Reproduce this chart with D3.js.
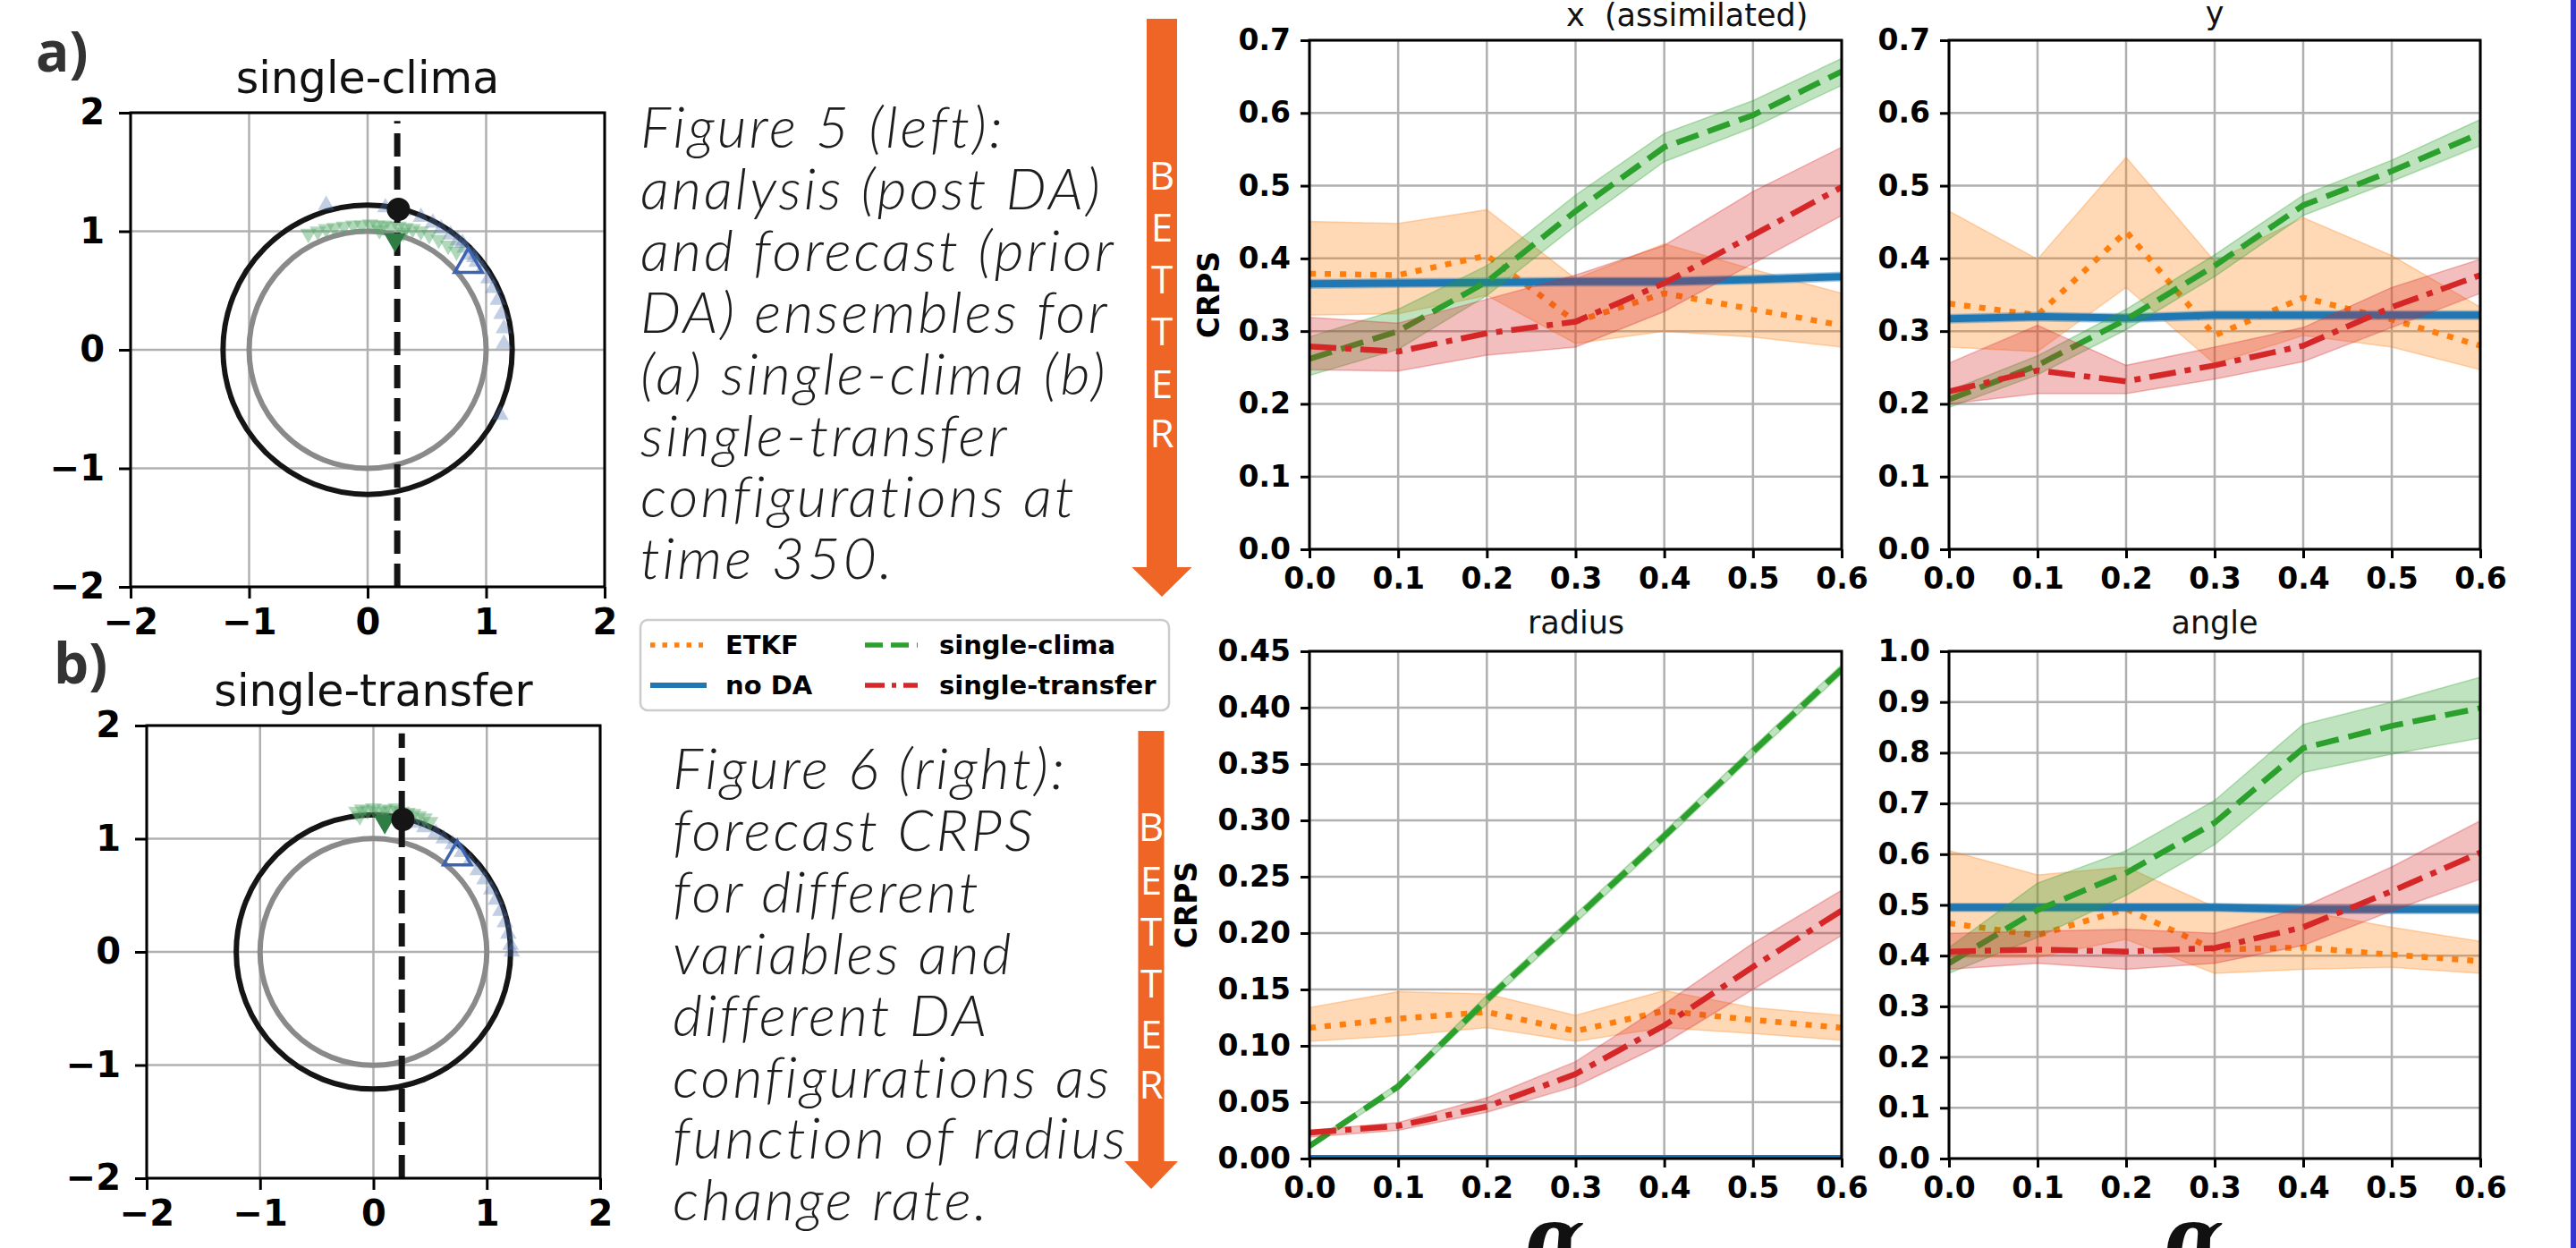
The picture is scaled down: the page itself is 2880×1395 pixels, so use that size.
<!DOCTYPE html>
<html>
<head>
<meta charset="utf-8">
<script src="https://cdn.jsdelivr.net/npm/d3@7"></script>
<style>
  body { margin: 0; background: #fff; }
  svg { display: block; }
</style>
</head>
<body>
<div id="chart"></div>
<script>
// ---- data ----
const alphaR = [0, 0.1, 0.2, 0.3, 0.4, 0.5, 0.6];
const seriesNames = ["ETKF", "no DA", "single-clima", "single-transfer"];

// order of inner arrays follows seriesNames
const xMean = [
  [0.379, 0.377, 0.404, 0.313, 0.352, 0.330, 0.308],
  [0.365, 0.366, 0.367, 0.368, 0.368, 0.371, 0.375],
  [0.262, 0.300, 0.368, 0.465, 0.553, 0.597, 0.657],
  [0.279, 0.272, 0.297, 0.313, 0.366, 0.432, 0.498]
];
const xLow = [
  [0.322, 0.324, 0.349, 0.283, 0.300, 0.292, 0.278],
  [0.359, 0.360, 0.361, 0.362, 0.362, 0.365, 0.369],
  [0.239, 0.275, 0.349, 0.445, 0.533, 0.580, 0.638],
  [0.247, 0.245, 0.267, 0.278, 0.327, 0.393, 0.459]
];
const xHigh = [
  [0.451, 0.448, 0.467, 0.372, 0.420, 0.385, 0.352],
  [0.371, 0.372, 0.373, 0.374, 0.374, 0.377, 0.381],
  [0.292, 0.330, 0.390, 0.487, 0.572, 0.617, 0.675],
  [0.319, 0.311, 0.344, 0.377, 0.418, 0.492, 0.553]
];

const yMean = [
  [0.338, 0.322, 0.437, 0.294, 0.346, 0.316, 0.280],
  [0.317, 0.320, 0.318, 0.322, 0.322, 0.322, 0.322],
  [0.206, 0.253, 0.316, 0.390, 0.473, 0.520, 0.572],
  [0.217, 0.246, 0.231, 0.253, 0.280, 0.333, 0.377]
];
const yLow = [
  [0.278, 0.272, 0.360, 0.255, 0.294, 0.278, 0.247],
  [0.311, 0.314, 0.312, 0.316, 0.316, 0.316, 0.316],
  [0.195, 0.240, 0.302, 0.375, 0.459, 0.506, 0.555],
  [0.200, 0.214, 0.214, 0.234, 0.258, 0.305, 0.352]
];
const yHigh = [
  [0.465, 0.399, 0.539, 0.396, 0.456, 0.404, 0.333],
  [0.323, 0.326, 0.324, 0.328, 0.328, 0.328, 0.328],
  [0.218, 0.266, 0.330, 0.405, 0.487, 0.535, 0.591],
  [0.256, 0.308, 0.253, 0.278, 0.305, 0.360, 0.399]
];

const radiusMean = [
  [0.116, 0.124, 0.130, 0.113, 0.131, 0.123, 0.116],
  [0.000, 0.000, 0.000, 0.000, 0.000, 0.000, 0.000],
  [0.011, 0.064, 0.141, 0.213, 0.286, 0.361, 0.434],
  [0.023, 0.029, 0.046, 0.075, 0.118, 0.170, 0.220]
];
const radiusLow = [
  [0.104, 0.109, 0.116, 0.104, 0.116, 0.111, 0.105],
  [0.000, 0.000, 0.000, 0.000, 0.000, 0.000, 0.000],
  [0.009, 0.061, 0.137, 0.209, 0.282, 0.357, 0.430],
  [0.019, 0.025, 0.041, 0.064, 0.102, 0.150, 0.198]
];
const radiusHigh = [
  [0.134, 0.148, 0.146, 0.127, 0.149, 0.134, 0.127],
  [0.001, 0.001, 0.001, 0.001, 0.001, 0.001, 0.001],
  [0.013, 0.067, 0.145, 0.217, 0.290, 0.365, 0.438],
  [0.025, 0.032, 0.054, 0.086, 0.137, 0.191, 0.238]
];

const angleMean = [
  [0.464, 0.440, 0.492, 0.412, 0.416, 0.402, 0.389],
  [0.495, 0.495, 0.495, 0.495, 0.491, 0.491, 0.491],
  [0.385, 0.490, 0.563, 0.662, 0.809, 0.853, 0.888],
  [0.408, 0.412, 0.408, 0.415, 0.456, 0.527, 0.603]
];
const angleLow = [
  [0.397, 0.397, 0.432, 0.365, 0.373, 0.377, 0.365],
  [0.487, 0.487, 0.487, 0.487, 0.483, 0.483, 0.483],
  [0.365, 0.436, 0.519, 0.619, 0.761, 0.797, 0.829],
  [0.373, 0.385, 0.373, 0.385, 0.420, 0.488, 0.551]
];
const angleHigh = [
  [0.607, 0.559, 0.575, 0.496, 0.488, 0.456, 0.428],
  [0.503, 0.503, 0.503, 0.503, 0.499, 0.499, 0.499],
  [0.416, 0.543, 0.607, 0.706, 0.856, 0.900, 0.949],
  [0.444, 0.448, 0.452, 0.444, 0.496, 0.575, 0.666]
];

const ticksXY = [0, 0.1, 0.2, 0.3, 0.4, 0.5, 0.6, 0.7];
const ticksRadius = [0, 0.05, 0.1, 0.15, 0.2, 0.25, 0.3, 0.35, 0.4, 0.45];
const ticksAngle = [0, 0.1, 0.2, 0.3, 0.4, 0.5, 0.6, 0.7, 0.8, 0.9, 1.0];

// ensembles at time 350 (x, y)
const orbitTicks = [-2, -1, 0, 1, 2];
const anaA = [[-0.5, 0.98], [-0.42, 1.0], [-0.35, 1.02], [-0.28, 1.03], [-0.2, 1.04], [-0.12, 1.05],
  [-0.05, 1.05], [0.02, 1.06], [0.08, 1.05], [0.14, 1.05], [0.2, 1.04], [0.26, 1.04], [0.32, 1.03],
  [0.38, 1.02], [0.45, 1.0], [0.52, 0.97], [0.6, 0.93], [0.68, 0.88], [0.75, 0.83], [0.1, 1.01], [0.3, 0.99]];
const fcA = [[-0.35, 1.22], [0.15, 1.2], [0.3, 1.17], [0.45, 1.12], [0.55, 1.07], [0.62, 1.02], [0.7, 0.97],
  [0.76, 0.92], [0.82, 0.86], [0.88, 0.8], [0.92, 0.74], [0.97, 0.68], [1.02, 0.6], [1.06, 0.52],
  [1.1, 0.42], [1.13, 0.3], [1.15, 0.18], [1.15, 0.05], [1.12, -0.55], [0.9, 0.78], [0.8, 0.9]];
const anaB = [[-0.15, 1.24], [-0.1, 1.26], [-0.05, 1.25], [0, 1.27], [0.05, 1.24], [0.1, 1.26], [0.15, 1.25],
  [0.2, 1.27], [0.25, 1.24], [0.3, 1.23], [0.35, 1.22], [0.4, 1.2], [0.45, 1.18], [0.5, 1.15],
  [-0.12, 1.2], [0.08, 1.2]];
const fcB = [[0.35, 1.14], [0.45, 1.1], [0.55, 1.05], [0.62, 1.0], [0.7, 0.95], [0.78, 0.88], [0.85, 0.8],
  [0.92, 0.72], [0.98, 0.64], [1.04, 0.55], [1.08, 0.46], [1.12, 0.36], [1.16, 0.26], [1.19, 0.16],
  [1.21, 0.06], [1.22, 0.0]];
const anaMeanA = [0.23, 0.93], fcMeanA = [0.85, 0.72];
const anaMeanB = [0.1, 1.15], fcMeanB = [0.74, 0.84];
const truthA = [0.26, 1.185], truthB = [0.26, 1.17];
const obsX = 0.25;

const caption5 = ["Figure 5 (left):", "analysis (post DA)", "and forecast (prior", "DA) ensembles for",
  "(a) single-clima (b)", "single-transfer", "configurations at", "time 350."];
const caption6 = ["Figure 6 (right):", "forecast CRPS", "for different", "variables and",
  "different DA", "configurations as", "function of radius", "change rate."];

// ---- drawing ----
const W = 2880, H = 1395;
const FONT = "'DejaVu Sans', sans-serif";
const colors = ["#ff7f0e", "#1f77b4", "#2ca02c", "#d62728"];
const dashes = ["7 10", null, "26 11", "30 10 7 10"];
const widths = [6.5, 8, 6.5, 6.5];

const svg = d3.select("#chart").append("svg")
  .attr("width", W).attr("height", H)
  .style("background", "#fff");

function styleAxis(a, size) {
  a.select(".domain").remove();
  a.selectAll(".tick line").attr("stroke", "#000").attr("stroke-width", 3);
  a.selectAll(".tick text")
    .attr("font-family", FONT).attr("font-size", size)
    .attr("font-weight", "bold").attr("fill", "#000");
}

function drawOrbit(p) {
  const x = d3.scaleLinear().domain([-2, 2]).range([p.left, p.right]);
  const y = d3.scaleLinear().domain([-2, 2]).range([p.bottom, p.top]);
  const g = svg.append("g");

  g.append("g").selectAll("line").data(orbitTicks).join("line")
    .attr("x1", d => x(d)).attr("x2", d => x(d))
    .attr("y1", p.top).attr("y2", p.bottom)
    .attr("stroke", "#b0b0b0").attr("stroke-width", 2.5);
  g.append("g").selectAll("line").data(orbitTicks).join("line")
    .attr("y1", d => y(d)).attr("y2", d => y(d))
    .attr("x1", p.left).attr("x2", p.right)
    .attr("stroke", "#b0b0b0").attr("stroke-width", 2.5);

  const unit = x(1) - x(0);
  g.append("circle").attr("cx", x(0)).attr("cy", y(0)).attr("r", unit)
    .attr("fill", "none").attr("stroke", "#8a8a8a").attr("stroke-width", 6);
  g.append("circle").attr("cx", x(0)).attr("cy", y(0)).attr("r", unit * p.radius)
    .attr("fill", "none").attr("stroke", "#151515").attr("stroke-width", 6);

  const small = d3.symbol().type(d3.symbolTriangle).size(150)();
  g.append("g").selectAll("path").data(p.fc).join("path")
    .attr("d", small)
    .attr("transform", d => `translate(${x(d[0])},${y(d[1])})`)
    .attr("fill", "#4c72b0").attr("fill-opacity", 0.35);
  g.append("g").selectAll("path").data(p.ana).join("path")
    .attr("d", small)
    .attr("transform", d => `translate(${x(d[0])},${y(d[1])}) rotate(180)`)
    .attr("fill", "#55a868").attr("fill-opacity", 0.45);

  g.append("line")
    .attr("x1", x(obsX)).attr("x2", x(obsX))
    .attr("y1", y(-2)).attr("y2", y(1.93))
    .attr("stroke", "#151515").attr("stroke-width", 7)
    .attr("stroke-dasharray", "26 11");

  g.append("path").attr("d", d3.symbol().type(d3.symbolTriangle).size(260)())
    .attr("transform", `translate(${x(p.anaMean[0])},${y(p.anaMean[1])}) rotate(180)`)
    .attr("fill", "#2f7d45");
  g.append("path").attr("d", d3.symbol().type(d3.symbolTriangle).size(420)())
    .attr("transform", `translate(${x(p.fcMean[0])},${y(p.fcMean[1])})`)
    .attr("fill", "none").attr("stroke", "#3d64b0").attr("stroke-width", 3.5);

  g.append("circle").attr("cx", x(p.truth[0])).attr("cy", y(p.truth[1])).attr("r", 13)
    .attr("fill", "#151515");

  g.append("rect").attr("x", p.left).attr("y", p.top)
    .attr("width", p.right - p.left).attr("height", p.bottom - p.top)
    .attr("fill", "none").attr("stroke", "#000").attr("stroke-width", 3);

  g.append("g").attr("transform", `translate(0,${p.bottom})`)
    .call(d3.axisBottom(x).tickValues(orbitTicks).tickSize(13).tickPadding(12).tickFormat(d3.format("d")))
    .call(a => styleAxis(a, 40));
  g.append("g").attr("transform", `translate(${p.left},0)`)
    .call(d3.axisLeft(y).tickValues(orbitTicks).tickSize(13).tickPadding(16).tickFormat(d3.format("d")))
    .call(a => styleAxis(a, 40));

  g.append("text").attr("x", (p.left + p.right) / 2).attr("y", p.titleY)
    .attr("text-anchor", "middle").attr("font-family", FONT).attr("font-size", 49)
    .attr("fill", "#111").text(p.title);
  g.append("text").attr("x", p.tagX).attr("y", p.tagY)
    .attr("font-family", "'Open Sans', sans-serif").attr("font-weight", "bold")
    .attr("font-size", 62).attr("fill", "#333").text(p.tag);
}

drawOrbit({ left: 146, right: 676, top: 126, bottom: 656, radius: 1.22,
  ana: anaA, fc: fcA, anaMean: anaMeanA, fcMean: fcMeanA, truth: truthA,
  title: "single-clima", titleY: 104, tag: "a)", tagX: 40, tagY: 80 });
drawOrbit({ left: 164, right: 671, top: 811, bottom: 1317, radius: 1.21,
  ana: anaB, fc: fcB, anaMean: anaMeanB, fcMean: fcMeanB, truth: truthB,
  title: "single-transfer", titleY: 789, tag: "b)", tagX: 60, tagY: 764 });

let clipId = 0;
function drawCrps(p) {
  const x = d3.scaleLinear().domain([0, 0.6]).range([p.left, p.right]);
  const y = d3.scaleLinear().domain([0, p.ticks[p.ticks.length - 1]]).range([p.bottom, p.top]);
  const g = svg.append("g");
  const id = "clip" + (clipId++);
  svg.append("clipPath").attr("id", id).append("rect")
    .attr("x", p.left).attr("y", p.top)
    .attr("width", p.right - p.left).attr("height", p.bottom - p.top);

  g.append("g").selectAll("line").data(alphaR).join("line")
    .attr("x1", d => x(d)).attr("x2", d => x(d))
    .attr("y1", p.top).attr("y2", p.bottom)
    .attr("stroke", "#b0b0b0").attr("stroke-width", 2.5);
  g.append("g").selectAll("line").data(p.ticks).join("line")
    .attr("y1", d => y(d)).attr("y2", d => y(d))
    .attr("x1", p.left).attr("x2", p.right)
    .attr("stroke", "#b0b0b0").attr("stroke-width", 2.5);

  const plot = g.append("g").attr("clip-path", `url(#${id})`);
  const area = d3.area().x((d, i) => x(alphaR[i])).y0(d => y(d[0])).y1(d => y(d[1]));
  const line = d3.line().x((d, i) => x(alphaR[i])).y(d => y(d));

  seriesNames.forEach((name, s) => {
    const band = p.low[s].map((v, i) => [v, p.high[s][i]]);
    plot.append("path").datum(band).attr("d", area)
      .attr("fill", colors[s]).attr("fill-opacity", 0.3)
      .attr("stroke", colors[s]).attr("stroke-opacity", 0.3).attr("stroke-width", 1.5);
    plot.append("path").datum(p.mean[s]).attr("d", line)
      .attr("fill", "none").attr("stroke", colors[s]).attr("stroke-width", widths[s])
      .attr("stroke-dasharray", dashes[s]);
  });

  g.append("rect").attr("x", p.left).attr("y", p.top)
    .attr("width", p.right - p.left).attr("height", p.bottom - p.top)
    .attr("fill", "none").attr("stroke", "#000").attr("stroke-width", 3);

  g.append("g").attr("transform", `translate(0,${p.bottom})`)
    .call(d3.axisBottom(x).tickValues(alphaR).tickSize(10).tickPadding(11).tickFormat(d3.format(".1f")))
    .call(a => styleAxis(a, 33));
  g.append("g").attr("transform", `translate(${p.left},0)`)
    .call(d3.axisLeft(y).tickValues(p.ticks).tickSize(10).tickPadding(11).tickFormat(d3.format(p.fmt)))
    .call(a => styleAxis(a, 33));

  g.append("text").attr("x", p.titleX).attr("y", p.titleY)
    .attr("text-anchor", p.titleAnchor).attr("font-family", FONT).attr("font-size", 35)
    .attr("fill", "#111").text(p.title);

  if (p.crpsX) {
    g.append("text")
      .attr("transform", `translate(${p.crpsX},${(p.top + p.bottom) / 2}) rotate(-90)`)
      .attr("text-anchor", "middle").attr("dy", "0.35em")
      .attr("font-family", FONT).attr("font-size", 33).attr("font-weight", "bold")
      .attr("fill", "#000").text("CRPS");
  }
  if (p.alphaLabel) {
    const t = g.append("text").attr("x", (p.left + p.right) / 2 - 8).attr("y", 1412)
      .attr("text-anchor", "middle").attr("font-family", "'DejaVu Serif', serif")
      .attr("font-style", "italic").attr("font-weight", "bold").attr("font-size", 86)
      .attr("fill", "#111");
    t.append("tspan").text("α");
    t.append("tspan").attr("font-size", 56).attr("dy", 14).text("r");
  }
}

drawCrps({ left: 1464, right: 2059, top: 45, bottom: 614, ticks: ticksXY, fmt: ".1f",
  mean: xMean, low: xLow, high: xHigh, title: "x\u00a0\u00a0(assimilated)", titleX: 1751, titleY: 29,
  titleAnchor: "start", crpsX: 1351 });
drawCrps({ left: 2179, right: 2773, top: 45, bottom: 614, ticks: ticksXY, fmt: ".1f",
  mean: yMean, low: yLow, high: yHigh, title: "y", titleX: 2476, titleY: 27,
  titleAnchor: "middle" });
drawCrps({ left: 1464, right: 2059, top: 728, bottom: 1295, ticks: ticksRadius, fmt: ".2f",
  mean: radiusMean, low: radiusLow, high: radiusHigh, title: "radius", titleX: 1762, titleY: 708,
  titleAnchor: "middle", crpsX: 1326, alphaLabel: true });
drawCrps({ left: 2179, right: 2773, top: 728, bottom: 1295, ticks: ticksAngle, fmt: ".1f",
  mean: angleMean, low: angleLow, high: angleHigh, title: "angle", titleX: 2476, titleY: 708,
  titleAnchor: "middle", alphaLabel: true });

// legend
const legend = svg.append("g");
legend.append("rect").attr("x", 716).attr("y", 693).attr("width", 591).attr("height", 101)
  .attr("rx", 8).attr("fill", "#fff").attr("stroke", "#cccccc").attr("stroke-width", 2.5);
const legendPos = [[727, 721], [727, 766], [967, 721], [967, 766]];
[0, 1, 2, 3].forEach((s, k) => {
  const [lx, ly] = legendPos[k];
  legend.append("line").attr("x1", lx).attr("x2", lx + (s === 1 ? 63 : 59)).attr("y1", ly).attr("y2", ly)
    .attr("stroke", colors[s]).attr("stroke-width", s === 1 ? 6 : 5.5)
    .attr("stroke-dasharray", s === 0 ? "5.5 8" : s === 2 ? "20 9" : s === 3 ? "22 8 5 8" : null);
  legend.append("text").attr("x", lx + (k < 2 ? 84 : 83)).attr("y", ly).attr("dy", "0.36em")
    .attr("font-family", FONT).attr("font-weight", "bold").attr("font-size", 29)
    .attr("fill", "#000").text(seriesNames[s]);
});

// captions
function caption(lines, x0, y0) {
  svg.append("g").selectAll("text").data(lines).join("text")
    .attr("x", x0).attr("y", (d, i) => y0 + i * 68.9)
    .attr("font-family", "Lato, 'Open Sans', sans-serif").attr("font-style", "italic")
    .attr("font-weight", 300).attr("font-size", 64).attr("letter-spacing", 3)
    .attr("fill", "#1e1e1e")
    .text(d => d);
}
caption(caption5, 716, 165);
caption(caption6, 752, 882);

// "BETTER" arrows
function arrow(cx, top, shaftBottom, tip, shaftW, headW, letterYs) {
  const g = svg.append("g");
  g.append("path")
    .attr("d", `M${cx - shaftW / 2},${top} H${cx + shaftW / 2} V${shaftBottom} H${cx + headW / 2}
      L${cx},${tip} L${cx - headW / 2},${shaftBottom} H${cx - shaftW / 2} Z`)
    .attr("fill", "#ef6526");
  g.selectAll("text").data("BETTER".split("")).join("text")
    .attr("x", cx).attr("y", (d, i) => letterYs[i]).attr("dy", "0.36em")
    .attr("text-anchor", "middle").attr("font-family", "'Open Sans', sans-serif")
    .attr("font-size", 44).attr("fill", "#fff").text(d => d);
}
arrow(1299, 21, 634, 667, 34, 67, [196, 254, 312, 370, 429, 484]);
arrow(1287, 817, 1298, 1329, 29, 60, [924, 984, 1041, 1099, 1156, 1212]);

// frame edge on the right
svg.append("rect").attr("x", 2874).attr("y", 0).attr("width", 6).attr("height", H).attr("fill", "#3535d0");
</script>
</body>
</html>
